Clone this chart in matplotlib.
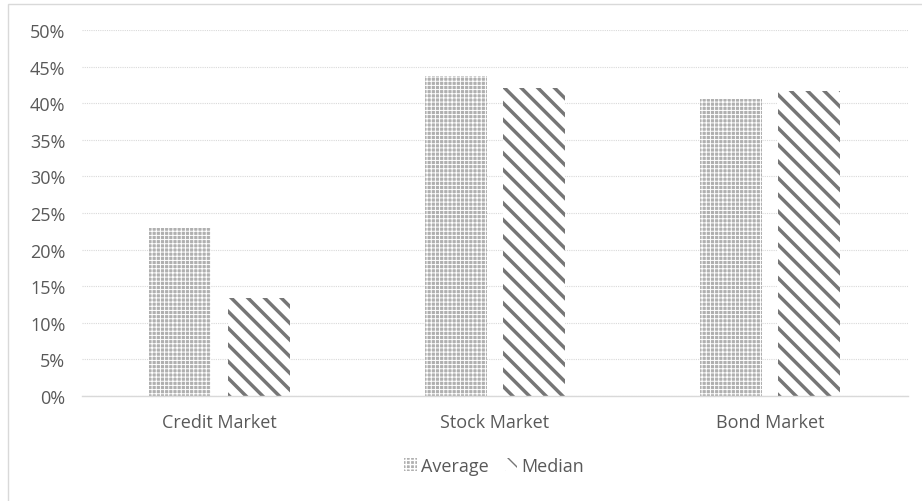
import matplotlib
matplotlib.use('Agg')
from matplotlib import pyplot as plt
from matplotlib.patches import Rectangle
from matplotlib.ticker import FuncFormatter
import numpy as np

# data
categories = ['Credit Market', 'Stock Market', 'Bond Market']
average = [0.23, 0.437, 0.406]
median = [0.134, 0.421, 0.417]

plt.rcParams['font.family'] = ['Open Sans', 'DejaVu Sans']
fs = 13

fig = plt.figure(figsize=(9.22, 5.02), dpi=100)
ax = fig.add_axes([82 / 922, 1 - 397 / 502, 826 / 922, 366 / 502])

x = np.arange(len(categories))
w = 0.225
with plt.rc_context({'hatch.linewidth': 0.7}):
    b1 = ax.bar(x - 0.143, average, w, color='#b0b0b0', edgecolor='white',
                hatch='++++', linewidth=0, label='Average', zorder=2)
with plt.rc_context({'hatch.linewidth': 2.5}):
    b2 = ax.bar(x + 0.142, median, w, color='white', edgecolor='#767676',
                hatch='\\\\', linewidth=0, label='Median', zorder=2)
# keep hatch widths per series (matplotlib >= 3.10)
for p in b1:
    if hasattr(p, 'set_hatch_linewidth'):
        p.set_hatch_linewidth(0.7)
for p in b2:
    if hasattr(p, 'set_hatch_linewidth'):
        p.set_hatch_linewidth(2.5)

ax.set_xlim(-0.5, 2.5)
ax.set_ylim(0, 0.5)
ax.set_yticks(np.arange(0, 0.51, 0.05))
ax.yaxis.set_major_formatter(FuncFormatter(lambda v, p: '{:.0f}%'.format(v * 100)))
ax.set_xticks(x)
ax.set_xticklabels(categories)

ax.grid(axis='y', color='#d9d9d9', linestyle=(0, (1, 1)), linewidth=0.8, zorder=0)
for s in ['top', 'right', 'left']:
    ax.spines[s].set_visible(False)
ax.spines['bottom'].set_color('#d9d9d9')
ax.spines['bottom'].set_linewidth(1.0)
ax.tick_params(axis='both', length=0, labelsize=fs, colors='#595959')
ax.tick_params(axis='x', pad=12)
ax.tick_params(axis='y', pad=12)

leg = ax.legend(loc='center', bbox_to_anchor=(494 / 922, 1 - 467 / 502),
                bbox_transform=fig.transFigure, ncol=2, frameon=False,
                fontsize=fs, handlelength=0.7, handleheight=0.7,
                handletextpad=0.2, columnspacing=0.9)
for t in leg.get_texts():
    t.set_color('#595959')

# chart border
fig.patches.append(Rectangle((8 / 922, -0.05), 1.0, 1 - 5 / 502 + 0.05,
                             transform=fig.transFigure, fill=False,
                             edgecolor='#d9d9d9', linewidth=1.0))

fig.savefig('out.png', dpi=100)
